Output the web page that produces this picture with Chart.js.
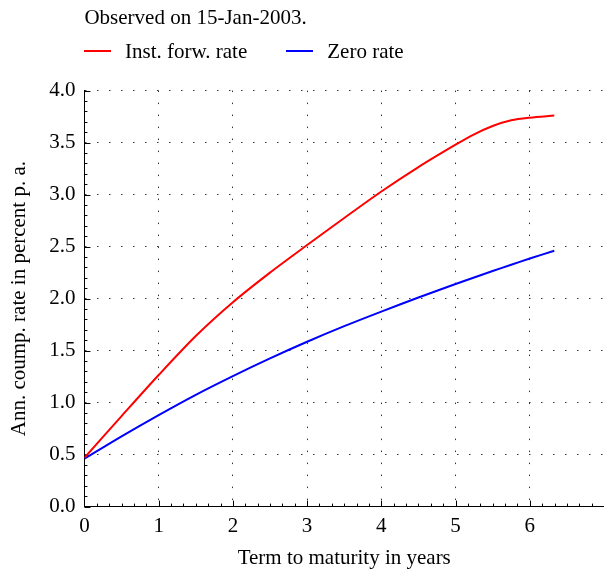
<!DOCTYPE html>
<html>
<head>
<meta charset="utf-8">
<script src="https://cdn.jsdelivr.net/npm/chart.js@4"></script>
<style>
  body { margin: 0; background: #fff; }
  #contenedor { position: relative; width: 604px; height: 571px; }
  canvas { display: block; }
  #leyenda {
    position: absolute; left: 84px; top: 32px;
    font: 21px 'Liberation Serif', 'Times New Roman', serif;
    line-height: 26px; color: #000; white-space: nowrap;
  }
  #leyenda .item { display: inline-flex; align-items: center; margin-right: 39px; }
  #leyenda .marca { display: inline-block; width: 27px; height: 2px; margin-right: 14px; }
</style>
</head>
<body>
<div id="contenedor">
  <canvas id="grafico" width="604" height="571"></canvas>
  <div id="leyenda"></div>
</div>
<script>
// Datos (años, % p. a.)
const plazos = [0, 0.5, 1, 1.5, 2, 2.5, 3, 3.5, 4, 4.5, 5, 5.25, 5.5, 5.75, 6, 6.33];
const tasaForward = [0.47, 0.87, 1.265, 1.64, 1.965, 2.25, 2.515, 2.775, 3.03, 3.265, 3.48, 3.58, 3.66, 3.715, 3.74, 3.76];
const tasaCero = [0.46, 0.675, 0.88, 1.075, 1.255, 1.425, 1.585, 1.735, 1.875, 2.01, 2.14, 2.203, 2.265, 2.325, 2.385, 2.46];
const etiquetasY = ['0.0', '0.5', '1.0', '1.5', '2.0', '2.5', '3.0', '3.5', '4.0'];
const etiquetasX = ['0', '1', '2', '3', '4', '5', '6', ''];

const fuente = 'Liberation Serif, Times New Roman, serif';

// Marcas de los ejes hacia dentro
const marcasInternas = {
    id: 'marcasInternas',
    beforeDatasetsDraw(chart) {
        const ctx = chart.ctx;
        const x = chart.scales.x, y = chart.scales.y;
        const x0 = x.getPixelForValue(0), y0 = y.getPixelForValue(0);
        ctx.save();
        ctx.strokeStyle = '#000';
        ctx.lineWidth = 1;
        ctx.beginPath();
        for (let i = 0; i <= 42; i++) {
            const px = Math.round(x.getPixelForValue(i / 6)) + 0.5;
            const largo = i % 6 === 0 ? 6 : 3;
            ctx.moveTo(px, y0);
            ctx.lineTo(px, y0 - largo);
        }
        for (let i = 0; i <= 40; i++) {
            const py = Math.round(y.getPixelForValue(i / 10)) + 0.5;
            const largo = i % 5 === 0 ? 6 : 3;
            ctx.moveTo(x0, py);
            ctx.lineTo(x0 + largo, py);
        }
        ctx.stroke();
        ctx.restore();
    }
};

// Leyenda en HTML a partir de los datasets
const leyendaHtml = {
    id: 'leyendaHtml',
    afterUpdate(chart) {
        const cont = document.getElementById('leyenda');
        cont.innerHTML = '';
        chart.data.datasets.forEach(ds => {
            const item = document.createElement('span');
            item.className = 'item';
            const marca = document.createElement('span');
            marca.className = 'marca';
            marca.style.background = ds.borderColor;
            item.appendChild(marca);
            item.appendChild(document.createTextNode(ds.label));
            cont.appendChild(item);
        });
    }
};

const ctxLineas = document.getElementById('grafico').getContext('2d');
new Chart(ctxLineas, {
    type: 'line',
    data: {
        datasets: [{
            label: 'Inst. forw. rate',
            data: plazos.map((t, i) => ({ x: t, y: tasaForward[i] })),
            borderColor: '#ff0000',
            backgroundColor: '#ff0000',
            borderWidth: 2,
            pointRadius: 0,
            tension: 0.3
        }, {
            label: 'Zero rate',
            data: plazos.map((t, i) => ({ x: t, y: tasaCero[i] })),
            borderColor: '#0000ff',
            backgroundColor: '#0000ff',
            borderWidth: 2,
            pointRadius: 0,
            tension: 0.3
        }]
    },
    options: {
        responsive: false,
        animation: false,
        maintainAspectRatio: false,
        layout: { padding: { left: 7, right: 0, top: 4, bottom: 0 } },
        plugins: {
            title: {
                display: true,
                text: 'Observed on 15-Jan-2003.',
                align: 'start',
                fullSize: false,
                color: '#000',
                font: { family: fuente, size: 21, weight: 'normal' },
                padding: { top: 1.4, bottom: 60 }
            },
            legend: { display: false },
            tooltip: { enabled: false }
        },
        scales: {
            x: {
                type: 'linear',
                min: 0,
                max: 7,
                border: { display: true, color: '#000', width: 1, dash: [1.5, 10.5] },
                grid: {
                    drawTicks: false,
                    color: c => (c.tick && (c.tick.value === 0 || c.tick.value === 7)) ? 'rgba(0,0,0,0)' : '#333'
                },
                ticks: {
                    stepSize: 1,
                    color: '#000',
                    padding: 7,
                    maxRotation: 0,
                    font: { family: fuente, size: 21 },
                    callback: (v) => etiquetasX[v]
                },
                title: {
                    display: true,
                    text: 'Term to maturity in years',
                    color: '#000',
                    font: { family: fuente, size: 21 },
                    padding: { top: 0, bottom: 0 }
                },
                afterFit: (escala) => { escala.paddingRight = 0; }
            },
            y: {
                min: 0,
                max: 4,
                border: { display: true, color: '#000', width: 1, dash: [1.5, 10.5] },
                grid: {
                    drawTicks: false,
                    color: c => (c.tick && c.tick.value === 0) ? 'rgba(0,0,0,0)' : '#333'
                },
                ticks: {
                    stepSize: 0.5,
                    color: '#000',
                    padding: 9,
                    font: { family: fuente, size: 21 },
                    callback: (v) => etiquetasY[Math.round(v * 2)]
                },
                title: {
                    display: true,
                    text: 'Ann. coump. rate in percent p. a.',
                    color: '#000',
                    font: { family: fuente, size: 21 },
                    padding: { top: 0, bottom: 8 }
                }
            }
        }
    },
    plugins: [marcasInternas, leyendaHtml]
});
</script>
</body>
</html>
